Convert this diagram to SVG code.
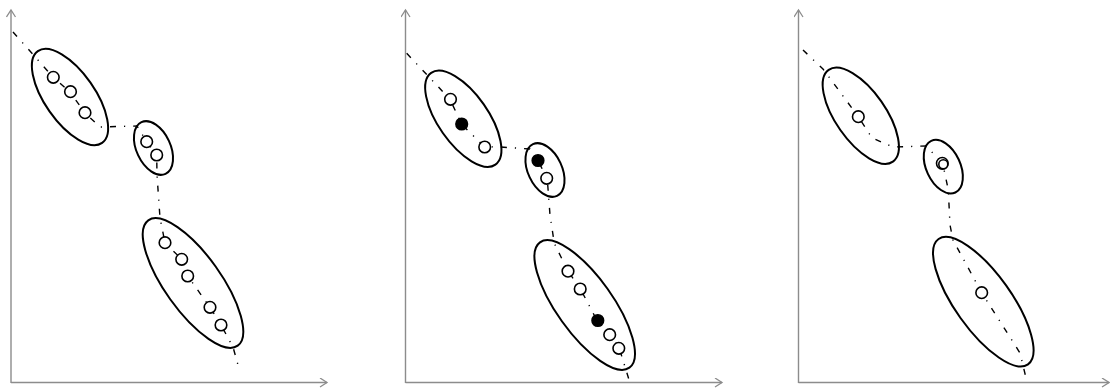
<svg xmlns="http://www.w3.org/2000/svg" width="1110" height="388" viewBox="0 0 1110 388">
<defs>
<marker id="arr" markerUnits="userSpaceOnUse" markerWidth="12" markerHeight="12" refX="8" refY="5" orient="auto">
<path d="M1,0.5 L8,5 L1,9.5" fill="none" stroke="#8c8c8c" stroke-width="1.3"/>
</marker>
</defs>
<style>
.ax{stroke:#8c8c8c;stroke-width:1.4;fill:none}
.el{fill:none;stroke:#000;stroke-width:2}
.pt{fill:#fff;stroke:#000;stroke-width:1.6}
.fp{fill:#000;stroke:#000;stroke-width:1.6}
.dl{fill:none;stroke:#000;stroke-width:1.4;stroke-dasharray:6 8 1.2 8}
</style>
<rect width="1110" height="388" fill="#fff"/>
<g id="axes">
<path class="ax" d="M11,383 L11,10" marker-end="url(#arr)"/>
<path class="ax" d="M11,382.5 L327,382.5" marker-end="url(#arr)"/>
<path class="ax" d="M405.5,383 L405.5,10" marker-end="url(#arr)"/>
<path class="ax" d="M405.5,382.5 L722,382.5" marker-end="url(#arr)"/>
<path class="ax" d="M798.5,383 L798.5,10" marker-end="url(#arr)"/>
<path class="ax" d="M798.5,382.5 L1109,382.5" marker-end="url(#arr)"/>
</g>
<g id="connectors">
<polyline class="dl" points="13,32 53,77 70,92 85,113 100,127 137,126 146.7,141.7 156.7,155 157,175 160,218 165,242.7 181.7,259.3 187.7,276 210,307.3 221,325 233,347 238,365"/>
<polyline class="dl" points="406.7,53.3 450,99.3 461.7,124.3 484.3,146.7 500,147 530,149 538.3,161 547.3,179.3 550,215 554.3,243.3 567.7,270.7 580.3,288.7 597.3,321 610,334.3 619.3,348.3 630,383"/>
<polyline class="dl" points="803,50 823,69 858.3,116.7 872,138 893,147 926,146 942.7,163.3 948.3,190 950,225 953,240 981.7,292.7 1020,353 1027,382"/>
</g>
<g id="panel1">
<g id="p1-cluster-a">
<ellipse class="el" cx="70" cy="97" rx="56" ry="25" transform="rotate(55 70 97)"/>
<circle class="pt" cx="53.3" cy="77.3" r="5.8"/>
<circle class="pt" cx="70.5" cy="91.7" r="5.8"/>
<circle class="pt" cx="85" cy="112.7" r="5.8"/>
</g>
<g id="p1-cluster-b">
<ellipse class="el" cx="153.5" cy="148" rx="28.5" ry="17" transform="rotate(65 153.5 148)"/>
<circle class="pt" cx="146.7" cy="141.7" r="5.8"/>
<circle class="pt" cx="156.7" cy="155" r="5.8"/>
</g>
<g id="p1-cluster-c">
<ellipse class="el" cx="193" cy="283" rx="77" ry="28" transform="rotate(54.5 193 283)"/>
<circle class="pt" cx="165" cy="242.7" r="5.8"/>
<circle class="pt" cx="181.7" cy="259.3" r="5.8"/>
<circle class="pt" cx="187.7" cy="276" r="5.8"/>
<circle class="pt" cx="210" cy="307.3" r="5.8"/>
<circle class="pt" cx="221" cy="325" r="5.8"/>
</g>
</g>
<g id="panel2">
<g id="p2-cluster-a">
<ellipse class="el" cx="463.3" cy="118.7" rx="56" ry="25" transform="rotate(55 463.3 118.7)"/>
<circle class="pt" cx="450.5" cy="99.3" r="5.8"/>
<circle class="fp" cx="461.7" cy="124" r="5.8"/>
<circle class="pt" cx="484.7" cy="147" r="5.8"/>
</g>
<g id="p2-cluster-b">
<ellipse class="el" cx="545" cy="170" rx="28.5" ry="17" transform="rotate(65 545 170)"/>
<circle class="fp" cx="538" cy="160.5" r="5.8"/>
<circle class="pt" cx="546.7" cy="178.3" r="5.8"/>
</g>
<g id="p2-cluster-c">
<ellipse class="el" cx="584.7" cy="305" rx="77" ry="28" transform="rotate(54.5 584.7 305)"/>
<circle class="pt" cx="568" cy="271.2" r="5.8"/>
<circle class="pt" cx="580.2" cy="289" r="5.8"/>
<circle class="fp" cx="597.8" cy="320.5" r="5.8"/>
<circle class="pt" cx="609.7" cy="334.7" r="5.8"/>
<circle class="pt" cx="618.8" cy="348.3" r="5.8"/>
</g>
</g>
<g id="panel3">
<g id="p3-cluster-a">
<ellipse class="el" cx="860.8" cy="115.7" rx="56" ry="25" transform="rotate(55 860.8 115.7)"/>
<circle class="pt" cx="858.3" cy="116.7" r="5.8"/>
</g>
<g id="p3-cluster-b">
<ellipse class="el" cx="943.3" cy="166.7" rx="28.5" ry="17" transform="rotate(65 943.3 166.7)"/>
<circle class="pt" cx="942.3" cy="163.3" r="5.8"/>
<circle class="pt" cx="943.3" cy="164.3" r="4.5"/>
</g>
<g id="p3-cluster-c">
<ellipse class="el" cx="983.3" cy="301.7" rx="77" ry="28" transform="rotate(54.5 983.3 301.7)"/>
<circle class="pt" cx="981.7" cy="292.7" r="5.8"/>
</g>
</g>
</svg>
